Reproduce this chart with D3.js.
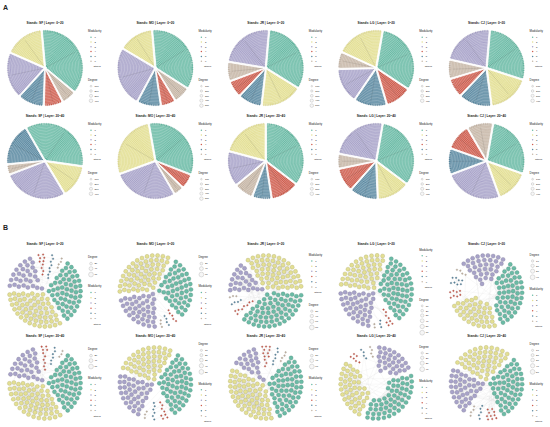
<!DOCTYPE html>
<html>
<head>
<meta charset="utf-8">
<script src="https://cdn.jsdelivr.net/npm/d3@7"></script>
<style>
  body { margin: 0; background: #fff; }
  text { font-family: 'Liberation Sans', Arial, sans-serif; fill: #222; }
</style>
</head>
<body>
<div id="chart"></div>
<script>
const stands = ['SF', 'MO', 'JR', 'LG', 'CJ'];
const layers = ['0~20', '20~40'];
const moduleLabels = ['1', '2', '3', '4', '5', '6', 'Others'];
const moduleColors = ['#6bbba6', '#e3df93', '#a8a3c9', '#cf5e4f', '#5c8aa2', '#c6b6a6', '#c8c8c8'];

// A: modules clockwise from the top, share of nodes (%), [layer][stand]
const aOrder = [
	[[1, 6, 4, 5, 3, 2], [1, 6, 4, 5, 3, 2], [1, 2, 5, 4, 6, 3], [1, 4, 5, 3, 6, 2], [1, 2, 5, 4, 6, 3]],
	[[1, 2, 3, 6, 5], [1, 4, 6, 3, 2], [1, 4, 5, 6, 3, 2], [1, 2, 5, 4, 6, 3], [1, 2, 3, 5, 4, 6]]
];
const aShare = [
	[[38, 6, 8, 11, 20, 17], [36, 7, 6, 10, 26, 15], [33, 18, 10, 7, 8, 24], [32, 11, 14, 15, 7, 21], [29, 18, 14, 8, 8, 23]],
	[[36, 14, 28, 4, 18], [34, 6, 4, 28, 28], [36, 12, 8, 8, 15, 21], [33, 14, 12, 10, 6, 25], [28, 14, 25, 11, 11, 11]]
];
const aRotation = [[-5, -5, 5, 10, 5], [-30, -10, 0, 10, 10]];
const aDegreeTicks = [
	[[100, 200, 300, 400], [100, 200, 300, 400, 500], [100, 200, 300, 400, 500], [100, 200, 300, 400], [100, 200, 300, 400]],
	[[100, 200, 300, 400], [100, 200, 300, 400, 500], [100, 200, 300, 400], [100, 200, 300, 400], [100, 200, 300, 400]]
];

// B: modules clockwise from the top, node counts, [layer][stand]
const bOrder = [
	[[4, 5, 6, 1, 2, 3], [1, 4, 5, 6, 3, 2], [2, 1, 4, 5, 6, 3], [1, 4, 5, 6, 3, 2], [3, 1, 2, 4, 5, 6]],
	[[4, 5, 6, 1, 2, 3], [2, 1, 4, 5, 6, 3], [4, 5, 6, 1, 2, 3], [3, 1, 2, 4, 5, 6], [2, 1, 4, 5, 6, 3]]
];
const bCount = [
	[[10, 8, 4, 75, 80, 45], [70, 5, 4, 3, 55, 80], [80, 85, 8, 4, 3, 35], [75, 8, 3, 2, 50, 60], [35, 55, 40, 8, 8, 4]],
	[[10, 6, 3, 75, 85, 45], [55, 65, 8, 6, 3, 45], [12, 6, 4, 80, 85, 30], [30, 55, 45, 6, 4, 4], [50, 55, 10, 5, 4, 40]]
];
const bRotation = [[-15, 30, -35, 20, -45], [-10, -70, -10, 0, -60]];
const bDegreeTicks = [
	[[20, 40, 60], [20, 40, 60], [20, 40, 60, 80], [10, 20, 30, 40, 50, 60], [10, 20, 30, 40]],
	[[20, 40, 60], [10, 20, 30, 40, 50], [20, 40, 60], [10, 20, 30, 40], [10, 20, 30, 40, 50]]
];
const bDegreeFirst = [[true, true, false, false, true], [true, true, true, true, true]];

const width = 550;
const height = 427;
const rad = Math.PI / 180;

const svg = d3.select('#chart').append('svg')
	.attr('width', width)
	.attr('height', height);

const colX = d3.scaleBand().domain(stands).range([0, 552]);
const centerA = d3.scalePoint().domain(layers).range([68, 161]);
const centerB = d3.scalePoint().domain(layers).range([291, 383]);
const color = d3.scaleOrdinal().domain(d3.range(1, 8)).range(moduleColors);

svg.append('text').text('A').attr('x', 3).attr('y', 9.5)
	.attr('font-size', 7).attr('font-weight', 700);
svg.append('text').text('B').attr('x', 3).attr('y', 230)
	.attr('font-size', 7).attr('font-weight', 700);

function title(g, stand, layer, y) {
	g.append('text')
		.text(`Stands: ${stand} | Layer: ${layer}`)
		.attr('x', 45).attr('y', y)
		.attr('text-anchor', 'middle')
		.attr('font-size', 3.2)
		.attr('font-weight', 700);
}

function modularityLegend(g, x, y, step) {
	g.append('text').text('Modularity').attr('x', x).attr('y', y).attr('font-size', 2.9);
	moduleLabels.forEach((label, i) => {
		const yy = y + 6 + i * step;
		if (i < 6) {
			g.append('circle').attr('cx', x + 3).attr('cy', yy - 0.8).attr('r', 0.75)
				.attr('fill', moduleColors[i]);
		}
		g.append('text').text(label)
			.attr('x', i < 6 ? x + 6.5 : x + 5.5).attr('y', yy)
			.attr('font-size', 2.4);
	});
	return y + 6 + 6 * step;
}

function degreeLegend(g, x, y, ticks, maxR) {
	const size = d3.scaleSqrt().domain([0, d3.max(ticks)]).range([0, maxR]);
	g.append('text').text('Degree').attr('x', x).attr('y', y).attr('font-size', 2.9);
	let yy = y + 4;
	let prev = 0;
	ticks.forEach((t, i) => {
		const r = size(t);
		yy += i === 0 ? Math.max(2, r) : Math.max(4.8, prev + r + 1.6);
		g.append('circle').attr('cx', x + 3).attr('cy', yy - 0.8).attr('r', r)
			.attr('fill', '#f6f6f6').attr('stroke', '#9a9a9a').attr('stroke-width', 0.3);
		g.append('text').text(t).attr('x', x + 6.5).attr('y', yy).attr('font-size', 2.4);
		prev = r;
	});
	return yy;
}

function degreeHeight(ticks, maxR) {
	const size = d3.scaleSqrt().domain([0, d3.max(ticks)]).range([0, maxR]);
	let h = 4;
	let prev = 0;
	ticks.forEach((t, i) => {
		const r = size(t);
		h += i === 0 ? Math.max(2, r) : Math.max(4.8, prev + r + 1.6);
		prev = r;
	});
	return h;
}

// ---------- A: module wheels ----------
const RA = 37;
layers.forEach((layer, li) => {
	stands.forEach((stand, si) => {
		const cy = centerA(layer);
		const g = svg.append('g').attr('transform', `translate(${colX(stand)},0)`);
		title(g, stand, layer, cy - 44);

		const rot = aRotation[li][si] * rad;
		const pie = d3.pie().sort(null).value(d => d.share)
			.startAngle(rot).endAngle(rot + 2 * Math.PI).padAngle(0.035);
		const arcs = pie(aOrder[li][si].map((m, i) => ({ module: m, share: aShare[li][si][i] })));
		const wheel = g.append('g').attr('transform', `translate(45,${cy})`);

		wheel.selectAll('path.module')
			.data(arcs).join('path')
			.attr('class', 'module')
			.attr('d', d3.arc().innerRadius(1.5).outerRadius(RA))
			.attr('fill', d => color(d.data.module))
			.attr('stroke', '#fff')
			.attr('stroke-width', 0.9);

		arcs.forEach(a => {
			const a0 = a.startAngle + a.padAngle;
			const a1 = a.endAngle - a.padAngle;
			const dark = d3.color(color(a.data.module)).darker(0.6);
			wheel.append('g').selectAll('path')
				.data(d3.range(4, RA - 0.5, 1.5)).join('path')
				.attr('d', r => d3.arc()({ innerRadius: r, outerRadius: r, startAngle: a0, endAngle: a1 }))
				.attr('fill', 'none')
				.attr('stroke', '#fff')
				.attr('stroke-opacity', 0.45)
				.attr('stroke-width', 0.35);
			const mid = (a0 + a1) / 2;
			wheel.append('line')
				.attr('x1', Math.sin(mid) * 3).attr('y1', -Math.cos(mid) * 3)
				.attr('x2', Math.sin(mid) * RA * 0.92).attr('y2', -Math.cos(mid) * RA * 0.92)
				.attr('stroke', '#333').attr('stroke-opacity', 0.45).attr('stroke-width', 0.25);
			const n = Math.max(2, Math.floor((a1 - a0) * RA / 1.7));
			wheel.append('g').selectAll('circle')
				.data(d3.range(n)).join('circle')
				.attr('cx', i => Math.sin(a0 + (i + 0.5) * (a1 - a0) / n) * RA)
				.attr('cy', i => -Math.cos(a0 + (i + 0.5) * (a1 - a0) / n) * RA)
				.attr('r', 0.8)
				.attr('fill', color(a.data.module))
				.attr('stroke', dark)
				.attr('stroke-width', 0.15);
		});

		const lx = 88;
		modularityLegend(g, lx, cy - 36, 4.8);
		degreeLegend(g, lx, cy + 13, aDegreeTicks[li][si], 1.8);
	});
});

// ---------- B: node networks ----------
const RB = 38;
layers.forEach((layer, li) => {
	stands.forEach((stand, si) => {
		const cy = centerB(layer);
		const g = svg.append('g').attr('transform', `translate(${colX(stand)},0)`);
		title(g, stand, layer, cy - 46.5);

		const rot = bRotation[li][si] * rad;
		const pie = d3.pie().sort(null).value(d => d.count)
			.startAngle(rot).endAngle(rot + 2 * Math.PI).padAngle(0.1);
		const arcs = pie(bOrder[li][si].map((m, i) => ({ module: m, count: bCount[li][si][i] })));
		const net = g.append('g').attr('transform', `translate(45,${cy})`);

		const nodes = [];
		arcs.forEach(a => {
			const big = a.data.count > 20;
			const s = big ? 5.2 : 3.8;
			const a0 = a.startAngle + a.padAngle / 2;
			const a1 = a.endAngle - a.padAngle / 2;
			let placed = 0;
			let row = 0;
			let r = RB - (big ? 2.4 : 1.5);
			const mine = [];
			while (placed < a.data.count && r > 3) {
				const m = Math.max(1, Math.floor((a1 - a0) * r / s));
				const off = row % 2 ? 0.5 : 0;
				for (let j = 0; j < m && placed < a.data.count; j++) {
					const ang = a0 + ((j + 0.25 + off * 0.5) / m) * (a1 - a0);
					mine.push({ x: Math.sin(ang) * r, y: -Math.cos(ang) * r, module: a.data.module, big });
					placed++;
				}
				r -= s * 0.87;
				row++;
			}
			nodes.push(mine);
		});

		const links = [];
		nodes.forEach(list => {
			const n = list.length;
			list.forEach((d, i) => {
				[7, 19, 37].forEach(k => {
					if (n > k) links.push([d, list[(i + k) % n]]);
				});
			});
		});
		const all = nodes.flat();
		all.forEach((d, i) => {
			if (i % 3 === 0) links.push([d, all[(i * 53 + 11) % all.length]]);
		});

		net.append('g').selectAll('line')
			.data(links).join('line')
			.attr('x1', d => d[0].x).attr('y1', d => d[0].y)
			.attr('x2', d => d[1].x).attr('y2', d => d[1].y)
			.attr('stroke', '#c4c4c4')
			.attr('stroke-opacity', 0.45)
			.attr('stroke-width', 0.25);

		net.append('g').selectAll('circle')
			.data(all).join('circle')
			.attr('cx', d => d.x).attr('cy', d => d.y)
			.attr('r', d => d.big ? 2.05 : 0.8)
			.attr('fill', d => color(d.module))
			.attr('stroke', d => d3.color(color(d.module)).darker(0.9))
			.attr('stroke-width', 0.3);

		const lx = 88;
		const ticks = bDegreeTicks[li][si];
		const modH = 6 + 6 * 5.2;
		const degH = degreeHeight(ticks, 2.4);
		const total = modH + 13 + degH;
		let top = cy - total / 2 + 1;
		if (bDegreeFirst[li][si]) {
			const end = degreeLegend(g, lx, top, ticks, 2.4);
			modularityLegend(g, lx, end + 12, 5.2);
		} else {
			const end = modularityLegend(g, lx, top, 5.2);
			degreeLegend(g, lx, end + 13, ticks, 2.4);
		}
	});
});
</script>
</body>
</html>
